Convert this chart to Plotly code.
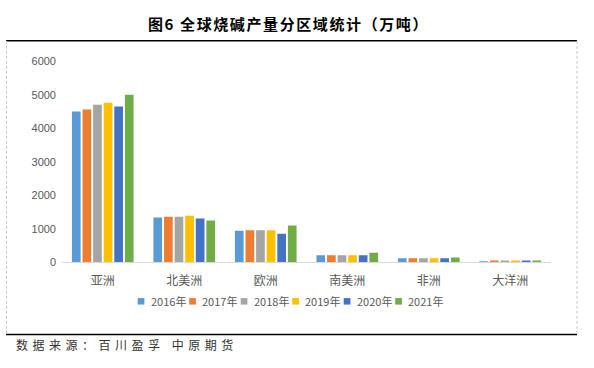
import plotly.graph_objects as go

W, H = 594, 368

regions = ["亚洲", "北美洲", "欧洲", "南美洲", "非洲", "大洋洲"]
years = ["2016年", "2017年", "2018年", "2019年", "2020年", "2021年"]
v2016 = [4500, 1340, 940, 210, 120, 30]
v2017 = [4560, 1360, 960, 210, 120, 55]
v2018 = [4700, 1360, 960, 210, 120, 55]
v2019 = [4760, 1390, 960, 210, 120, 55]
v2020 = [4650, 1310, 850, 210, 120, 55]
v2021 = [5000, 1250, 1100, 290, 145, 55]
series = [v2016, v2017, v2018, v2019, v2020, v2021]
colors = ["#5B9BD5", "#ED7D31", "#A5A5A5", "#FFC000", "#4472C4", "#70AD47"]
y_ticks = [0, 1000, 2000, 3000, 4000, 5000, 6000]
title_text = "图6 全球烧碱产量分区域统计（万吨）"
source_text = "数据来源：百川盈孚 中原期货"

fig = go.Figure()
for name, vals, c in zip(years, series, colors):
    fig.add_trace(go.Bar(x=regions, y=vals, name=name, showlegend=False,
                         marker=dict(color=c, line=dict(width=0))))


def px_x(x):
    return x / W


def px_y(y):
    return 1 - y / H


font_cjk = "Noto Sans CJK SC, Noto Sans, sans-serif"
gray = "#595959"

fig.update_layout(
    width=W, height=H,
    margin=dict(l=0, r=0, t=0, b=0),
    paper_bgcolor="white", plot_bgcolor="white",
    barmode="group", bargap=0.22, bargroupgap=0.18,
    font=dict(family=font_cjk, color=gray, size=11),
    xaxis=dict(domain=[px_x(62), px_x(551)], showgrid=False, showline=True,
               linecolor="#D9D9D9", linewidth=1, ticks="", ticklabelstandoff=7,
               tickfont=dict(size=12, color=gray, family=font_cjk)),
    yaxis=dict(domain=[px_y(265), px_y(57)], range=[0, 6000], tickvals=y_ticks,
               showgrid=False, showline=False, zeroline=False, ticks="", ticklabelstandoff=5,
               tickfont=dict(size=11, color=gray, family="Liberation Sans, Arial, sans-serif")),
    showlegend=False,
)

shapes = [
    dict(type="line", xref="paper", yref="paper", x0=px_x(6), x1=px_x(577), y0=px_y(36), y1=px_y(36),
         line=dict(color="black", width=1.5)),
    dict(type="line", xref="paper", yref="paper", x0=px_x(6), x1=px_x(577), y0=px_y(339.5), y1=px_y(339.5),
         line=dict(color="black", width=1.5)),
    dict(type="line", xref="paper", yref="paper", x0=px_x(6.5), x1=px_x(6.5), y0=px_y(36), y1=px_y(339.5),
         line=dict(color="#C8C8C8", width=1, dash="3px,2px")),
    dict(type="line", xref="paper", yref="paper", x0=px_x(577), x1=px_x(577), y0=px_y(36), y1=px_y(339.5),
         line=dict(color="#C8C8C8", width=1, dash="3px,2px")),
]

# manual compact legend (layout only)
leg_x0, leg_pitch, sq, leg_yc = 137.7, 51.5, 6.7, 305.3
for i, (name, c) in enumerate(zip(years, colors)):
    xs = leg_x0 + i * leg_pitch
    shapes.append(dict(type="rect", xref="paper", yref="paper",
                       x0=px_x(xs), x1=px_x(xs + sq), y0=px_y(leg_yc - sq / 2), y1=px_y(leg_yc + sq / 2),
                       fillcolor=c, line=dict(width=0)))
    fig.add_annotation(text=name, xref="paper", yref="paper", x=px_x(xs + sq + 4.5), y=px_y(leg_yc),
                       xanchor="left", yanchor="middle", showarrow=False,
                       font=dict(size=11, color=gray, family=font_cjk))
fig.update_layout(shapes=shapes)

fig.add_annotation(text="<b><span style='letter-spacing:1.6px'>" + title_text + "</span></b>",
                   xref="paper", yref="paper",
                   x=px_x(288), y=px_y(18.5), xanchor="center", yanchor="middle", showarrow=False,
                   font=dict(size=15, color="black", family=font_cjk))
fig.add_annotation(text="<span style='letter-spacing:4.5px'>" + source_text + "</span>",
                   xref="paper", yref="paper",
                   x=px_x(14), y=px_y(350), xanchor="left", yanchor="middle", showarrow=False,
                   font=dict(size=12, color="#333333", family=font_cjk))

fig.write_html("out.html", config={"displayModeBar": False},
               post_script="document.body.style.margin='0';")
